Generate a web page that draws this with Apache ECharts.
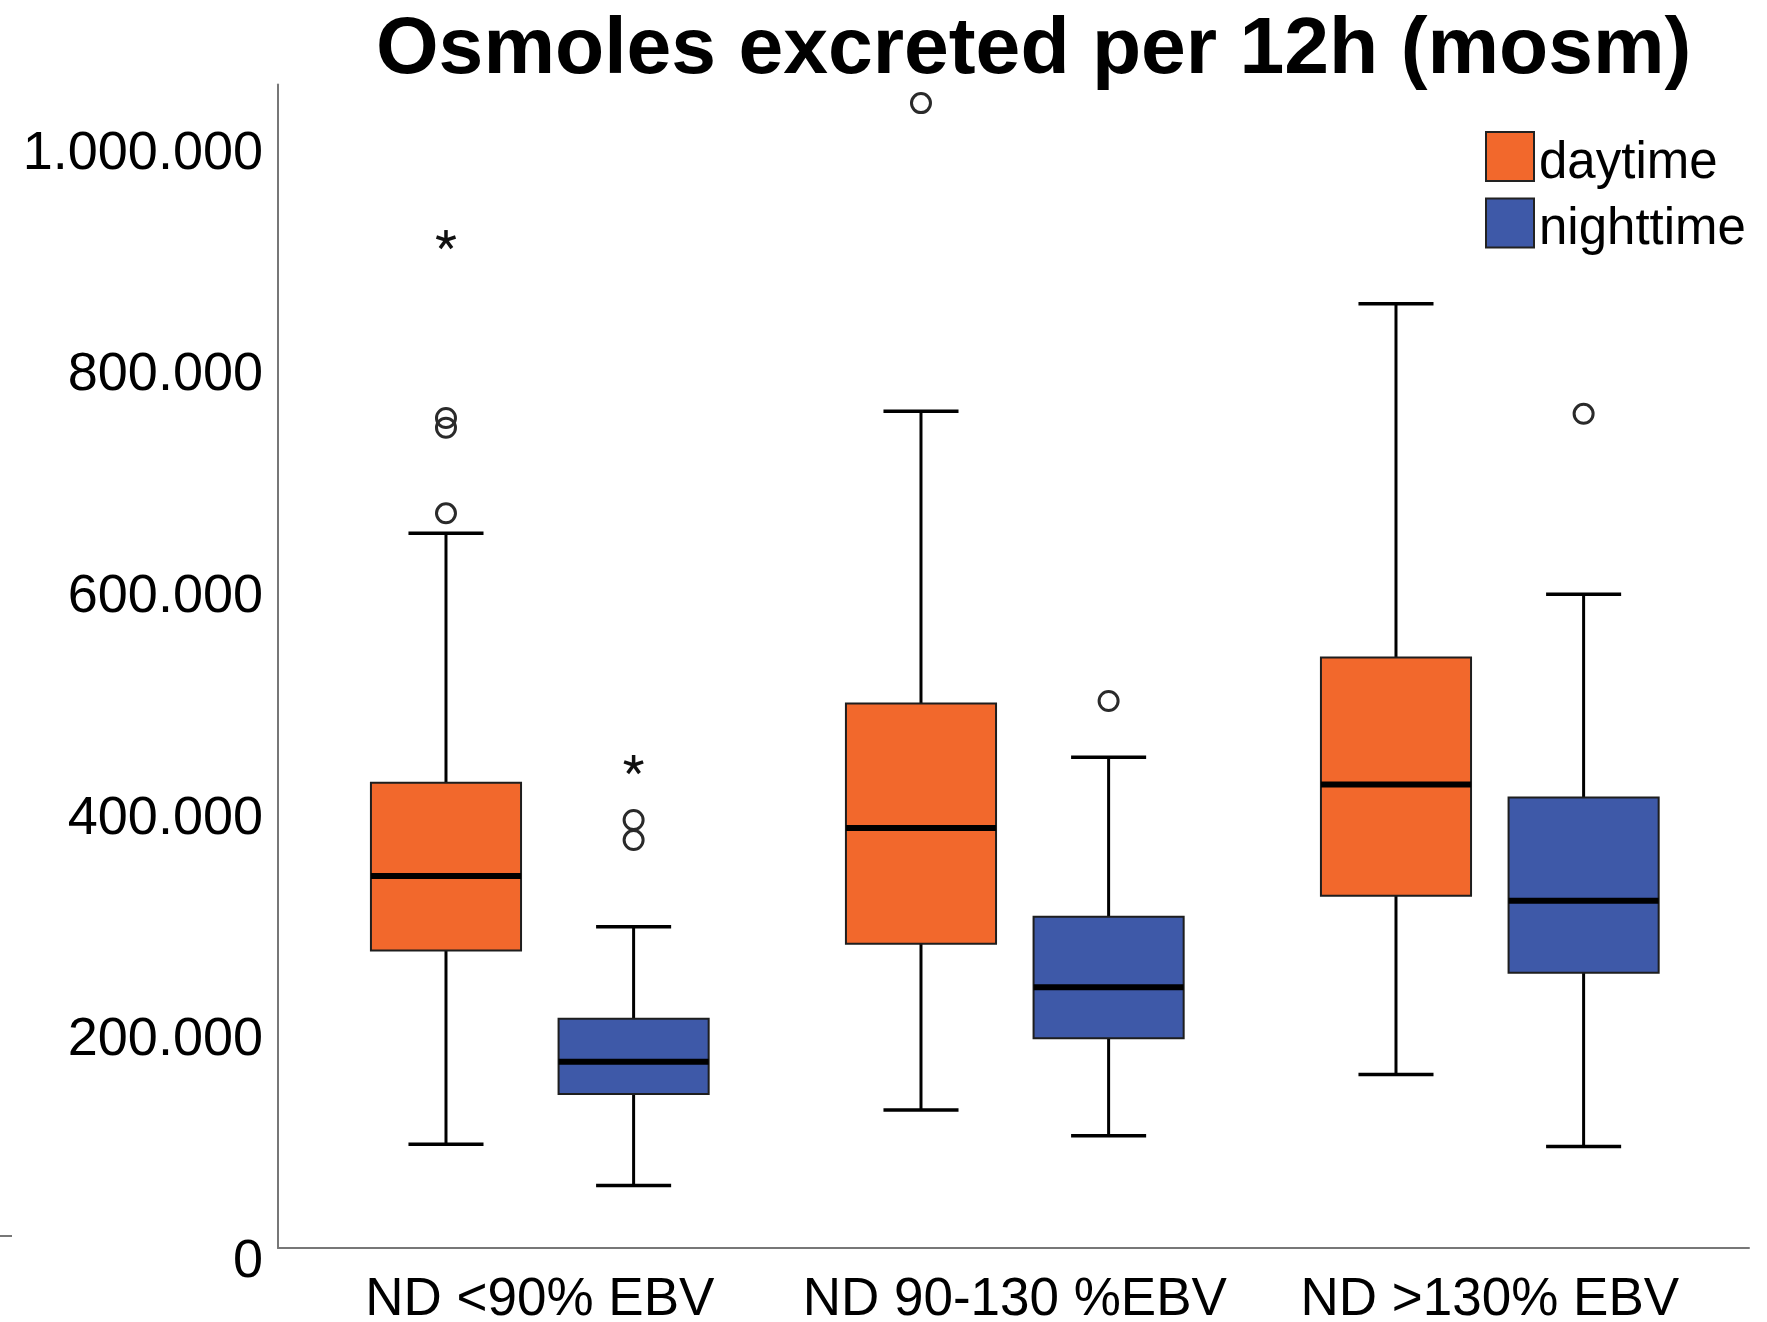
<!DOCTYPE html>
<html>
<head>
<meta charset="utf-8">
<title>Osmoles excreted per 12h</title>
<script src="https://cdn.jsdelivr.net/npm/echarts@6/dist/echarts.min.js"></script>
<style>
  html, body { margin: 0; padding: 0; background: #fff; }
  #chart { width: 1767px; height: 1322px; }
</style>
</head>
<body>
<div id="chart"></div>
<script>
  // categories on the x axis
  const categories = ['ND <90% EBV', 'ND 90-130 %EBV', 'ND >130% EBV'];

  // box stats per category: [lower whisker, Q1, median, Q3, upper whisker]
  const dayBox = [
    [93600, 268500, 335700, 420000, 645000],
    [124500, 274600, 379100, 491400, 755200],
    [156500, 318000, 418300, 533000, 852100]
  ];
  const nightBox = [
    [56300, 139000, 168000, 206800, 290000],
    [101300, 189300, 235400, 299000, 443000],
    [91700, 248400, 313500, 406500, 590000]
  ];

  // outliers (circles) and extremes (stars): [category index, value]
  const dayOutliers = [[0, 663100], [0, 740300], [0, 749100], [1, 1033300]];
  const nightOutliers = [[0, 368200], [0, 386300], [1, 493700], [2, 752900]];
  const dayExtremes = [[0, 909700]];
  const nightExtremes = [[0, 435900]];

  const yTicks = [0, 200000, 400000, 600000, 800000, 1000000];

  const DAY_COLOR = '#f2682c';
  const NIGHT_COLOR = '#3e59a8';
  const FONT = "'Liberation Sans', Arial, sans-serif";

  // layout as fractions of the category band
  const BOX_OFFSET = 0.1975;
  const BOX_WIDTH = 0.316;
  const CAP_WIDTH = 0.158;

  const fmt = v => String(v).replace(/\B(?=(\d{3})+(?!\d))/g, '.');

  function boxRenderer(side, fill) {
    return function (params, api) {
      const cat = api.value(0);
      const band = api.size([1, 0])[0];
      const cx = api.coord([cat, 0])[0] + side * BOX_OFFSET * band;
      const y = i => api.coord([cat, api.value(i)])[1];
      const yMin = y(1), yQ1 = y(2), yMed = y(3), yQ3 = y(4), yMax = y(5);
      const hw = BOX_WIDTH * band / 2;
      const cw = CAP_WIDTH * band / 2;
      const stem = { stroke: '#000', lineWidth: 3 };
      const cap = { stroke: '#000', lineWidth: 3.5 };
      return {
        type: 'group',
        children: [
          { type: 'line', shape: { x1: cx, y1: yMax, x2: cx, y2: yQ3 }, style: stem },
          { type: 'line', shape: { x1: cx, y1: yQ1, x2: cx, y2: yMin }, style: stem },
          { type: 'line', shape: { x1: cx - cw, y1: yMax, x2: cx + cw, y2: yMax }, style: cap },
          { type: 'line', shape: { x1: cx - cw, y1: yMin, x2: cx + cw, y2: yMin }, style: cap },
          {
            type: 'rect',
            shape: { x: cx - hw, y: yQ3, width: 2 * hw, height: yQ1 - yQ3 },
            style: { fill: fill, stroke: '#1e1e1e', lineWidth: 2 }
          },
          { type: 'line', shape: { x1: cx - hw, y1: yMed, x2: cx + hw, y2: yMed }, style: { stroke: '#000', lineWidth: 6 } }
        ]
      };
    };
  }

  function circleRenderer(side) {
    return function (params, api) {
      const cat = api.value(0);
      const band = api.size([1, 0])[0];
      const p = api.coord([cat, api.value(1)]);
      return {
        type: 'circle',
        shape: { cx: p[0] + side * BOX_OFFSET * band, cy: p[1], r: 9.5 },
        style: { fill: 'none', stroke: '#2a2a2a', lineWidth: 3 }
      };
    };
  }

  function starRenderer(side) {
    return function (params, api) {
      const cat = api.value(0);
      const band = api.size([1, 0])[0];
      const p = api.coord([cat, api.value(1)]);
      const cx = p[0] + side * BOX_OFFSET * band;
      const arms = [];
      for (let k = 0; k < 5; k++) {
        const a = -Math.PI / 2 + k * 2 * Math.PI / 5;
        arms.push({
          type: 'line',
          shape: { x1: cx, y1: p[1], x2: cx + 10 * Math.cos(a), y2: p[1] + 10 * Math.sin(a) },
          style: { stroke: '#111', lineWidth: 3.5 }
        });
      }
      return { type: 'group', children: arms };
    };
  }

  const chart = echarts.init(document.getElementById('chart'));

  const yRange = { min: 0, max: 1050000 };

  chart.setOption({
    animation: false,
    backgroundColor: '#fff',
    title: {
      text: 'Osmoles excreted per 12h (mosm)',
      left: 371,
      top: 5,
      textStyle: { fontFamily: FONT, fontWeight: 'bold', fontSize: 80.5, color: '#000' }
    },
    legend: {
      orient: 'vertical',
      left: 1480,
      top: 126,
      itemWidth: 48,
      itemHeight: 49,
      itemGap: 8.5,
      selectedMode: false,
      formatter: name => '{t|' + name + '}',
      textStyle: {
        rich: { t: { fontFamily: FONT, fontSize: 51, color: '#000', padding: [14, 0, 0, 0] } }
      },
      data: [
        { name: 'daytime', icon: 'rect', itemStyle: { color: DAY_COLOR, borderColor: '#222', borderWidth: 2 } },
        { name: 'nighttime', icon: 'rect', itemStyle: { color: NIGHT_COLOR, borderColor: '#222', borderWidth: 2 } }
      ]
    },
    grid: [
      // frame with the axis lines
      { left: 278, right: 18, top: 84.6, bottom: 74, outerBoundsMode: 'none' },
      // grid that holds the boxes
      { left: 302.3, right: 39.7, top: 84.6, bottom: 74, outerBoundsMode: 'none' }
    ],
    xAxis: [
      {
        type: 'value', gridIndex: 0, min: 0, max: 1,
        axisLine: { show: true, lineStyle: { color: '#777', width: 2 } },
        axisTick: { show: false }, axisLabel: { show: false }, splitLine: { show: false }
      },
      {
        type: 'category', gridIndex: 1, data: categories,
        axisLine: { show: false }, axisTick: { show: false }, splitLine: { show: false },
        axisLabel: { interval: 0, fontFamily: FONT, fontSize: 53, color: '#000', margin: 26 }
      }
    ],
    yAxis: [
      {
        type: 'value', gridIndex: 0, min: yRange.min, max: yRange.max, interval: yTicks[1] - yTicks[0],
        axisLine: { show: true, lineStyle: { color: '#777', width: 2 } },
        axisTick: { show: false }, splitLine: { show: false },
        axisLabel: {
          color: '#000', margin: 15, showMaxLabel: false,
          formatter: v => (yTicks.indexOf(v) >= 0 ? '{t|' + fmt(v) + '}' : ''),
          rich: {
            t: { fontFamily: FONT, fontSize: 54, color: '#000', padding: [28, 0, 0, 0] }
          }
        }
      },
      {
        type: 'value', gridIndex: 1, min: yRange.min, max: yRange.max, show: false
      }
    ],
    series: [
      {
        name: 'daytime', type: 'custom', xAxisIndex: 1, yAxisIndex: 1,
        itemStyle: { color: DAY_COLOR },
        renderItem: boxRenderer(-1, DAY_COLOR),
        encode: { x: 0, y: [1, 2, 3, 4, 5] },
        data: dayBox.map((s, i) => [i].concat(s))
      },
      {
        name: 'nighttime', type: 'custom', xAxisIndex: 1, yAxisIndex: 1,
        itemStyle: { color: NIGHT_COLOR },
        renderItem: boxRenderer(1, NIGHT_COLOR),
        encode: { x: 0, y: [1, 2, 3, 4, 5] },
        data: nightBox.map((s, i) => [i].concat(s))
      },
      {
        name: 'day outliers', type: 'custom', xAxisIndex: 1, yAxisIndex: 1,
        renderItem: circleRenderer(-1), encode: { x: 0, y: 1 }, data: dayOutliers
      },
      {
        name: 'night outliers', type: 'custom', xAxisIndex: 1, yAxisIndex: 1,
        renderItem: circleRenderer(1), encode: { x: 0, y: 1 }, data: nightOutliers
      },
      {
        name: 'day extremes', type: 'custom', xAxisIndex: 1, yAxisIndex: 1,
        renderItem: starRenderer(-1), encode: { x: 0, y: 1 }, data: dayExtremes
      },
      {
        name: 'night extremes', type: 'custom', xAxisIndex: 1, yAxisIndex: 1,
        renderItem: starRenderer(1), encode: { x: 0, y: 1 }, data: nightExtremes
      }
    ],
    graphic: [
      { type: 'line', shape: { x1: 0, y1: 1236, x2: 12, y2: 1236 }, style: { stroke: '#777', lineWidth: 2 } }
    ]
  });
</script>
</body>
</html>
